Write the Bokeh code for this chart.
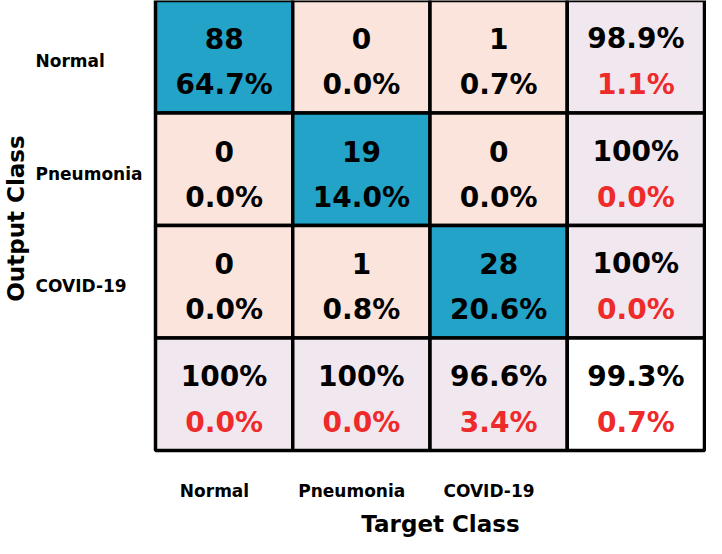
from bokeh.plotting import figure
from bokeh.models import ColumnDataSource, Range1d
from bokeh.core.properties import value
from bokeh.embed import file_html
from bokeh.resources import INLINE
import math

# ---------------- data ----------------
classes = ["Normal", "Pneumonia", "COVID-19"]
counts = [[88, 0, 1],
          [0, 19, 0],
          [0, 1, 28]]
cell_pct = [[64.7, 0.0, 0.7],
            [0.0, 14.0, 0.0],
            [0.0, 0.8, 20.6]]
row_correct = [98.9, 100, 100]
row_wrong = [1.1, 0.0, 0.0]
col_correct = [100, 100, 96.6]
col_wrong = [0.0, 0.0, 3.4]
overall_correct = 99.3
overall_wrong = 0.7

# ---------------- style ----------------
TEAL = "#23A3C8"
SALMON = "#FAE4DC"
LAVENDER = "#F1E7EF"
RED = "#EE2A2A"
FONT = value("DejaVu Sans")

W, H = 706, 538
GX0, CW, RH = 155, 137.25, 112.5


def fx(px):
    return (px - GX0) / CW


def fy(px):
    return px / RH


def fmt(v):
    return "100%" if v == 100 else f"{v:.1f}%"


n = len(classes)
xs, ys, fills, top, bot, botc = [], [], [], [], [], []
for r in range(n + 1):
    for c in range(n + 1):
        xs.append(c + 0.5)
        ys.append(r + 0.5)
        if r < n and c < n:
            fills.append(TEAL if r == c else SALMON)
            top.append(str(counts[r][c]))
            bot.append(fmt(cell_pct[r][c]))
            botc.append("black")
        elif r < n:
            fills.append(LAVENDER)
            top.append(fmt(row_correct[r]))
            bot.append(fmt(row_wrong[r]))
            botc.append(RED)
        elif c < n:
            fills.append(LAVENDER)
            top.append(fmt(col_correct[c]))
            bot.append(fmt(col_wrong[c]))
            botc.append(RED)
        else:
            fills.append("white")
            top.append(fmt(overall_correct))
            bot.append(fmt(overall_wrong))
            botc.append(RED)

src = ColumnDataSource(dict(
    x=xs, y=ys, fill=fills, top=top, bot=bot, botc=botc,
    ytop=[y - 0.5 + 0.34 for y in ys],
    ybot=[y - 0.5 + 0.75 for y in ys],
))

p = figure(width=W, height=H, output_backend="svg", toolbar_location=None,
           x_range=Range1d(fx(0), fx(W)), y_range=Range1d(fy(H), 0),
           min_border=0)
p.axis.visible = False
p.grid.visible = False
p.outline_line_color = None
p.background_fill_color = "white"
p.border_fill_color = "white"

p.rect(x="x", y="y", width=1, height=1, source=src, fill_color="fill",
       line_color="black", line_width=3.5)

p.text(x="x", y="ytop", text="top", source=src, text_color="black",
       text_font=FONT, text_font_style="bold", text_font_size="28px",
       text_align="center", text_baseline="middle")
p.text(x="x", y="ybot", text="bot", source=src, text_color="botc",
       text_font=FONT, text_font_style="bold", text_font_size="28px",
       text_align="center", text_baseline="middle")

# row labels (output class)
p.text(x=[fx(35)] * n, y=[i + 0.54 for i in range(n)], text=classes,
       text_font=FONT, text_font_style="bold", text_font_size="17px",
       text_align="left", text_baseline="middle", text_color="black")
# column labels (target class)
p.text(x=[i + 0.43 for i in range(n)], y=[fy(490)] * n, text=classes,
       text_font=FONT, text_font_style="bold", text_font_size="17px",
       text_align="center", text_baseline="middle", text_color="black")

p.text(x=[fx(440)], y=[fy(523)], text=["Target Class"],
       text_font=FONT, text_font_style="bold", text_font_size="23px",
       text_align="center", text_baseline="middle", text_color="black")
p.text(x=[fx(15)], y=[fy(218)], text=["Output Class"], angle=math.pi / 2,
       text_font=FONT, text_font_style="bold", text_font_size="23px",
       text_align="center", text_baseline="middle", text_color="black")

open("out.html", "w").write(file_html(p, INLINE))
